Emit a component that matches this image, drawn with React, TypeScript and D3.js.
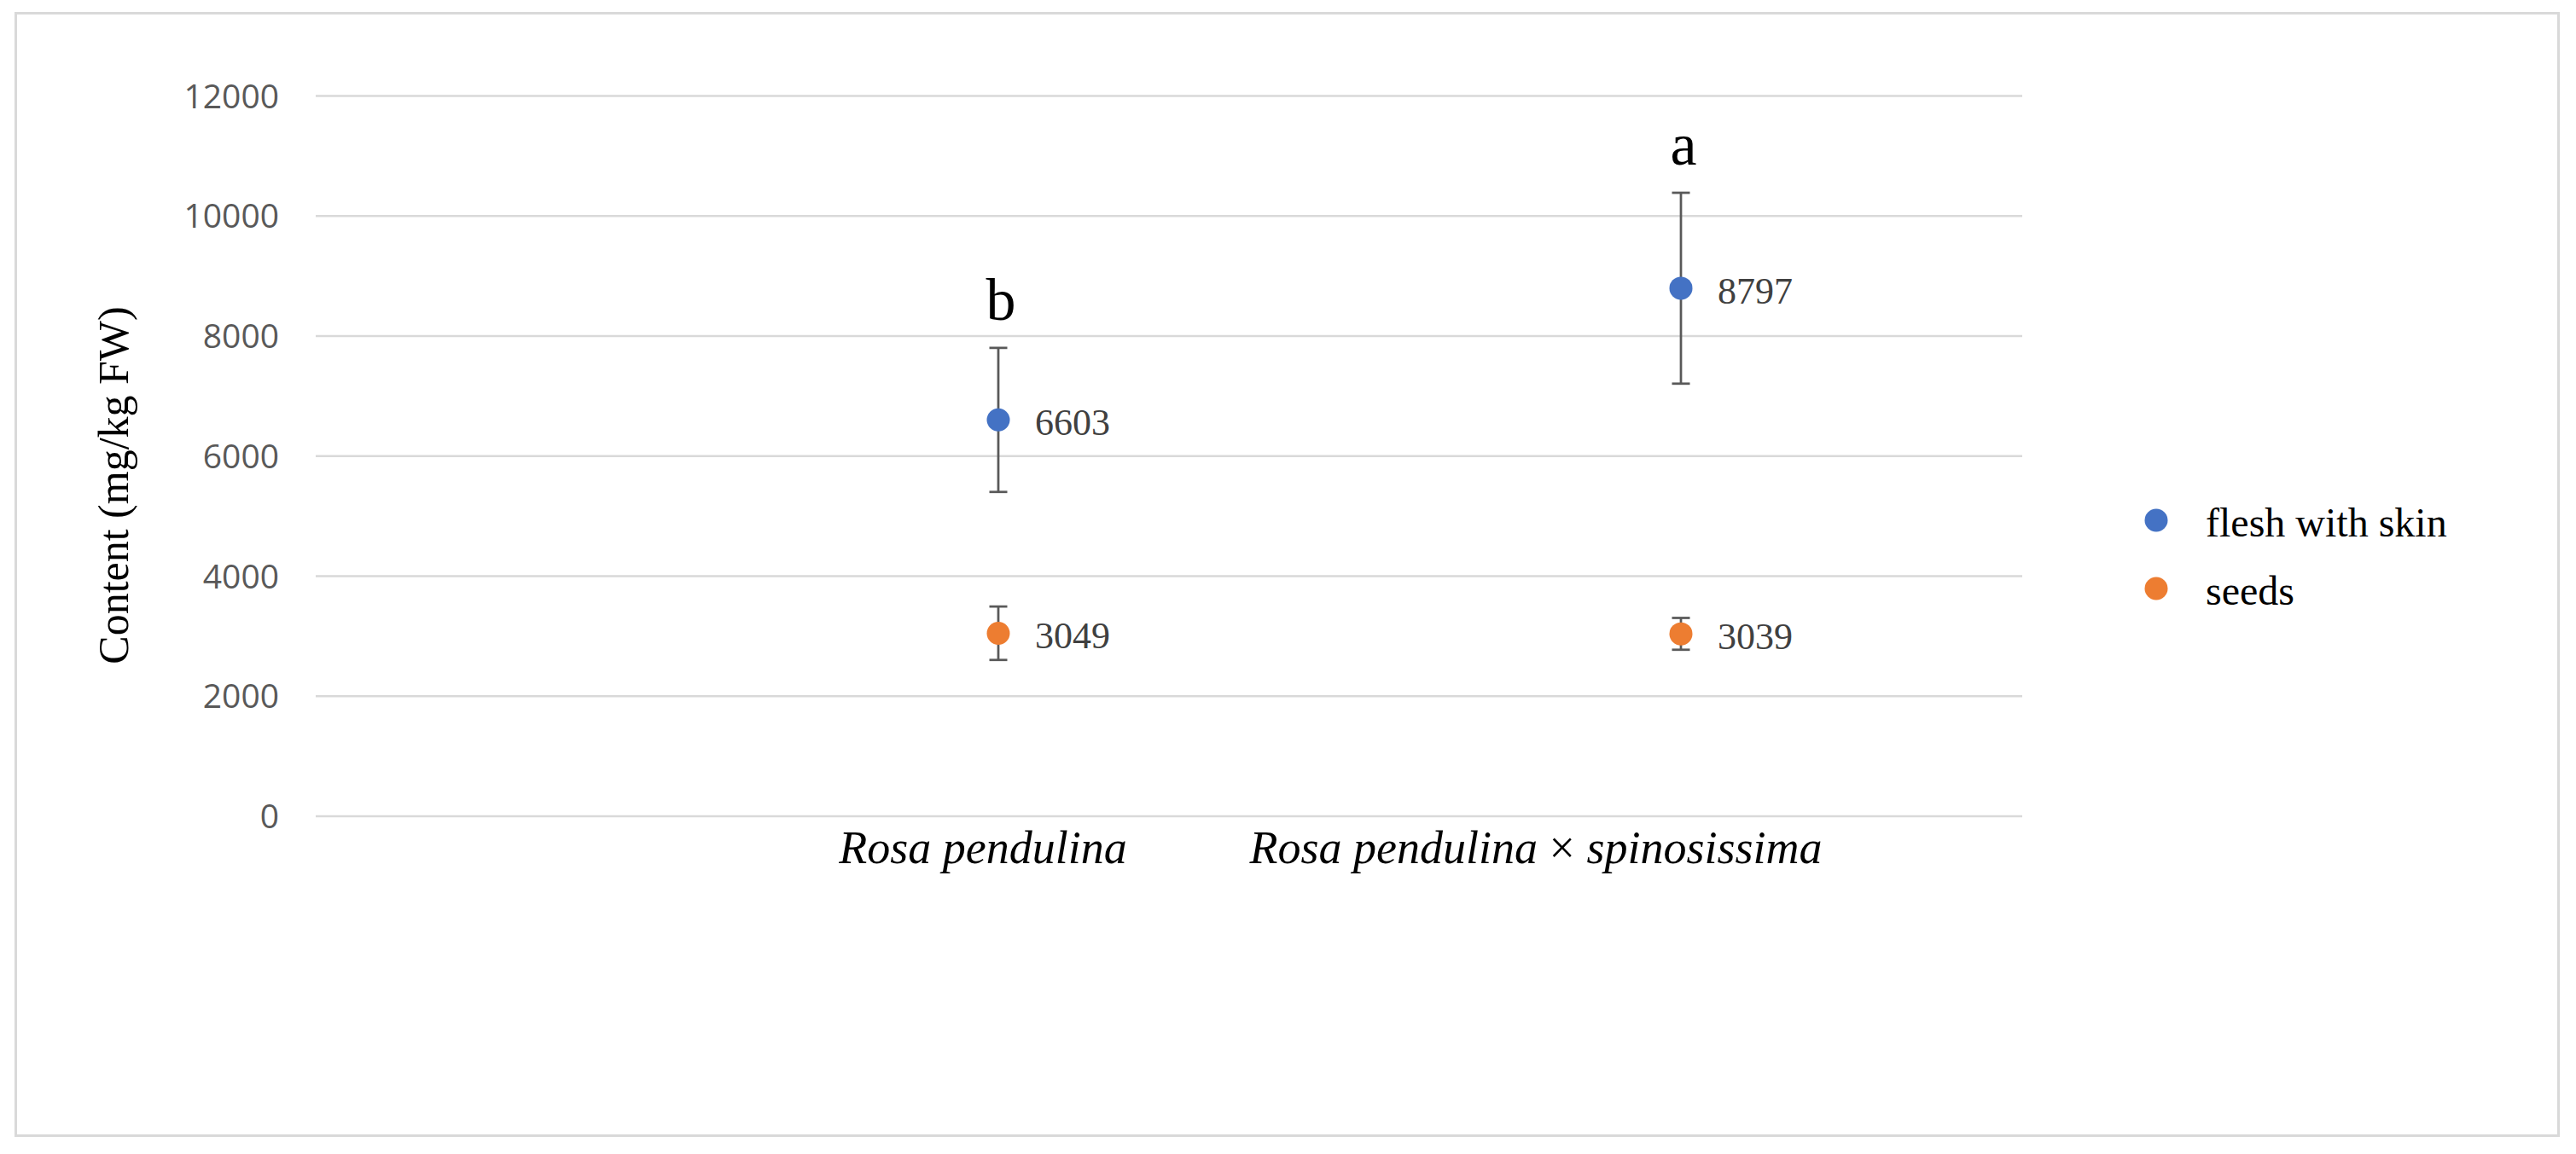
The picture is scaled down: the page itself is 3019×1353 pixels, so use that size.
import { useRef, useEffect } from "react";
import * as d3 from "d3";

const categories = ["Rosa pendulina", "Rosa pendulina × spinosissima"];
const seriesNames = ["flesh with skin", "seeds"];
const seriesColors = ["#4472C4", "#ED7D31"];
const fleshValues = [6603, 8797];
const fleshErrors = [1200, 1590];
const seedValues = [3049, 3039];
const seedErrors = [445, 265];
const groupLetters = ["b", "a"];
const yTicks = [0, 2000, 4000, 6000, 8000, 10000, 12000];

const WIDTH = 3019;
const HEIGHT = 1353;
const PLOT = { left: 370, right: 2370, top: 112.5, bottom: 957 };
const SERIF = "'Liberation Serif', 'Times New Roman', serif";
// category labels in the original are not centred on the points
const LABEL_SHIFT = [-18, -170];

export default function App() {
  const svgRef = useRef<SVGSVGElement>(null);

  useEffect(() => {
    document.body.style.margin = "0";
    if (!svgRef.current) return;
    const svg = d3.select(svgRef.current);
    svg.selectAll("*").remove();

    // outer frame
    svg.append("rect")
      .attr("x", 18.5).attr("y", 15.5)
      .attr("width", 2980).attr("height", 1316)
      .attr("fill", "#fff")
      .attr("stroke", "#d9d9d9")
      .attr("stroke-width", 3);

    const x = d3.scaleLinear().domain([0, 2.5]).range([PLOT.left, PLOT.right]);
    const y = d3.scaleLinear().domain([0, 12000]).range([PLOT.bottom, PLOT.top]);

    // gridlines + tick labels
    const grid = svg.append("g");
    for (const t of yTicks) {
      grid.append("line")
        .attr("x1", PLOT.left).attr("x2", PLOT.right)
        .attr("y1", y(t)).attr("y2", y(t))
        .attr("stroke", "#d9d9d9")
        .attr("stroke-width", 2.5);
      grid.append("text")
        .attr("x", 327).attr("y", y(t))
        .attr("dy", "0.36em")
        .attr("text-anchor", "end")
        .attr("fill", "#595959")
        .style("font-family", "'Open Sans', sans-serif")
        .style("font-size", "39px")
        .text(t);
    }

    // category labels
    categories.forEach((c, i) => {
      const t = svg.append("text")
        .attr("x", x(i + 1) + LABEL_SHIFT[i])
        .attr("y", PLOT.bottom + 55)
        .attr("text-anchor", "middle")
        .attr("fill", "#000")
        .style("font-family", SERIF)
        .style("font-size", "54px");
      const parts = c.split(" × ");
      parts.forEach((p, j) => {
        if (j > 0) t.append("tspan").style("font-style", "normal").text(" × ");
        t.append("tspan").style("font-style", "italic").text(p);
      });
    });

    // y title
    svg.append("text")
      .attr("transform", `translate(150,${569}) rotate(-90)`)
      .attr("text-anchor", "middle")
      .attr("fill", "#000")
      .style("font-family", SERIF)
      .style("font-size", "50px")
      .text("Content (mg/kg FW)");

    const series = [
      { values: fleshValues, errors: fleshErrors, color: seriesColors[0] },
      { values: seedValues, errors: seedErrors, color: seriesColors[1] },
    ];

    const g = svg.append("g");
    for (const s of series) {
      s.values.forEach((v, i) => {
        const cx = x(i + 1);
        const e = s.errors[i];
        g.append("line")
          .attr("x1", cx).attr("x2", cx)
          .attr("y1", y(v + e)).attr("y2", y(v - e))
          .attr("stroke", "#595959").attr("stroke-width", 2.75);
        for (const end of [v + e, v - e]) {
          g.append("line")
            .attr("x1", cx - 10.5).attr("x2", cx + 10.5)
            .attr("y1", y(end)).attr("y2", y(end))
            .attr("stroke", "#595959").attr("stroke-width", 2.75);
        }
      });
    }
    for (const s of series) {
      s.values.forEach((v, i) => {
        const cx = x(i + 1);
        g.append("circle")
          .attr("cx", cx).attr("cy", y(v))
          .attr("r", 13.5)
          .attr("fill", s.color);
        g.append("text")
          .attr("x", cx + 43).attr("y", y(v) + 18)
          .attr("fill", "#404040")
          .style("font-family", SERIF)
          .style("font-size", "44px")
          .text(v);
      });
    }

    // significance letters above the flesh error bars
    groupLetters.forEach((l, i) => {
      g.append("text")
        .attr("x", x(i + 1) + 3)
        .attr("y", y(fleshValues[i] + fleshErrors[i]) - 33)
        .attr("text-anchor", "middle")
        .attr("fill", "#000")
        .style("font-family", SERIF)
        .style("font-size", "70px")
        .text(l);
    });

    // legend
    const legend = svg.append("g").attr("transform", "translate(2527,610)");
    seriesNames.forEach((n, i) => {
      const row = legend.append("g").attr("transform", `translate(0,${i * 80})`);
      row.append("circle").attr("r", 13.5).attr("fill", seriesColors[i]);
      row.append("text")
        .attr("x", 58).attr("y", 19)
        .attr("fill", "#000")
        .style("font-family", SERIF)
        .style("font-size", "48px")
        .text(n);
    });
  }, []);

  return <svg ref={svgRef} width={WIDTH} height={HEIGHT} style={{ display: "block" }} />;
}
